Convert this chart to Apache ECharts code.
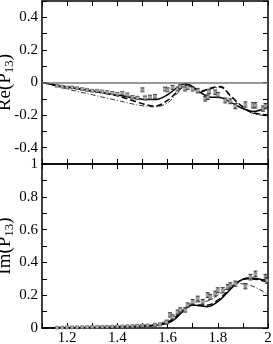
<!DOCTYPE html>
<html><head><meta charset="utf-8">
<script src="https://cdn.jsdelivr.net/npm/echarts@6/dist/echarts.min.js"></script>
<style>html,body{margin:0;padding:0;background:#fff}#c{width:273px;height:344px}</style>
</head><body><div id="c"></div>
<script>
// ---- Re(P13) panel ----
const reCurveX = [1.1, 1.15, 1.2, 1.25, 1.3, 1.35, 1.4, 1.45, 1.5, 1.55, 1.6, 1.64, 1.67, 1.7, 1.73, 1.77, 1.81, 1.85, 1.9, 1.94, 2.0];
const reSolid  = [0, -0.015, -0.028, -0.04, -0.052, -0.064, -0.077, -0.09, -0.103, -0.105, -0.075, -0.03, -0.008, -0.025, -0.06, -0.09, -0.092, -0.12, -0.16, -0.178, -0.15];
const reDashed = [0, -0.014, -0.027, -0.04, -0.053, -0.066, -0.082, -0.105, -0.13, -0.145, -0.11, -0.055, -0.015, -0.03, -0.055, -0.035, -0.025, -0.08, -0.15, -0.185, -0.2];
const reDashDot= [0, -0.02, -0.04, -0.058, -0.075, -0.093, -0.11, -0.128, -0.143, -0.15, -0.125, -0.065, -0.02, -0.035, -0.06, -0.04, -0.03, -0.085, -0.155, -0.19, -0.205];
const reDataX = [1.16,1.18,1.20,1.22,1.24,1.26,1.28,1.30,1.32,1.34,1.36,1.38,1.40,1.42,1.44,1.46,1.48,1.50,1.51,1.53,1.55,1.59,1.60,1.62,1.64,1.65,1.67,1.68,1.70,1.72,1.75,1.76,1.765,1.79,1.80,1.83,1.85,1.87,1.91,1.94,1.95,1.98,1.99];
const reDataY = [-0.02,-0.025,-0.03,-0.03,-0.035,-0.04,-0.045,-0.05,-0.05,-0.055,-0.06,-0.065,-0.07,-0.065,-0.075,-0.09,-0.095,-0.045,-0.095,-0.09,-0.085,-0.04,-0.045,-0.03,-0.04,-0.025,-0.04,-0.03,-0.04,-0.05,-0.10,-0.09,-0.055,-0.06,-0.075,-0.11,-0.115,-0.145,-0.135,-0.14,-0.14,-0.16,-0.145];
const reDataE = [0.006,0.006,0.006,0.006,0.006,0.006,0.007,0.007,0.007,0.007,0.008,0.008,0.008,0.01,0.01,0.01,0.01,0.012,0.012,0.012,0.012,0.012,0.012,0.012,0.012,0.012,0.012,0.012,0.012,0.014,0.014,0.014,0.014,0.014,0.014,0.015,0.015,0.016,0.016,0.016,0.016,0.016,0.016];
// ---- Im(P13) panel ----
const imCurveX = [1.1, 1.2, 1.3, 1.4, 1.5, 1.55, 1.6, 1.63, 1.66, 1.7, 1.73, 1.76, 1.8, 1.84, 1.88, 1.92, 1.96, 2.0];
const imSolid  = [0, 0.001, 0.003, 0.005, 0.01, 0.015, 0.028, 0.055, 0.1, 0.14, 0.135, 0.13, 0.16, 0.22, 0.28, 0.305, 0.3, 0.285];
const imDashed = [0, 0.001, 0.003, 0.006, 0.012, 0.018, 0.035, 0.065, 0.105, 0.14, 0.14, 0.14, 0.17, 0.225, 0.28, 0.3, 0.295, 0.28];
const imDashDot= [0, 0.001, 0.003, 0.006, 0.013, 0.02, 0.045, 0.075, 0.115, 0.155, 0.16, 0.165, 0.2, 0.245, 0.27, 0.265, 0.24, 0.205];
const imDataX = [1.16,1.18,1.20,1.22,1.24,1.26,1.28,1.30,1.32,1.34,1.36,1.38,1.40,1.42,1.44,1.46,1.48,1.50,1.52,1.55,1.57,1.596,1.61,1.62,1.64,1.65,1.67,1.68,1.70,1.72,1.74,1.76,1.77,1.79,1.80,1.82,1.84,1.85,1.87,1.91,1.93,1.95,1.99,1.995];
const imDataY = [0.002,0.003,0.004,0.004,0.005,0.005,0.006,0.006,0.007,0.008,0.008,0.009,0.01,0.01,0.011,0.012,0.014,0.015,0.016,0.02,0.022,0.036,0.08,0.067,0.097,0.11,0.11,0.14,0.16,0.18,0.16,0.20,0.19,0.21,0.23,0.23,0.25,0.26,0.27,0.255,0.31,0.33,0.31,0.29];
const imDataE = [0.004,0.004,0.004,0.004,0.004,0.004,0.004,0.004,0.004,0.004,0.004,0.004,0.004,0.004,0.005,0.005,0.005,0.006,0.006,0.008,0.008,0.012,0.013,0.013,0.013,0.013,0.013,0.013,0.014,0.014,0.014,0.015,0.015,0.015,0.015,0.016,0.016,0.016,0.016,0.016,0.017,0.017,0.017,0.017];

const FONT = 'Liberation Serif';
const pair = (xs, ys) => xs.map((x, i) => [x, ys[i]]);
const trip = (xs, ys, es) => xs.map((x, i) => [x, ys[i], es[i]]);

function xAxis(gridIndex, position, labels) {
  return {
    type: 'value', gridIndex, position, min: 1.1, max: 2.0, interval: 0.1,
    axisLine: { show: true, onZero: false, lineStyle: { color: '#000', width: 1.5 } },
    axisTick: { show: true, inside: true, length: 5, lineStyle: { color: '#000', width: 1 } },
    splitLine: { show: false },
    axisLabel: {
      show: labels, color: '#000', fontFamily: FONT, fontSize: 15, margin: 3, showMinLabel: true, showMaxLabel: true,
      formatter: v => { const k = Math.round(v * 10); return k % 2 === 0 ? (k === 20 ? '2' : (k / 10).toFixed(1)) : ''; }
    }
  };
}
function yAxis(gridIndex, position, min, max, labels, fmt, name) {
  return {
    type: 'value', gridIndex, position, min, max, interval: 0.1,
    axisLine: { show: true, onZero: false, lineStyle: { color: '#000', width: 1.5 } },
    axisTick: { show: true, inside: true, length: 5, lineStyle: { color: '#000', width: 1 } },
    splitLine: { show: false },
    axisLabel: { show: labels, color: '#000', fontFamily: FONT, fontSize: 15, margin: 4, formatter: fmt, showMinLabel: true, showMaxLabel: true },
    name: name || '', nameLocation: 'middle', nameRotate: 90, nameGap: 26, nameMoveOverlap: false,
    nameTextStyle: {
      color: '#000', fontFamily: FONT,
      rich: {
        a: { fontFamily: FONT, fontSize: 19, color: '#000', lineHeight: 20, verticalAlign: 'top' },
        s: { fontFamily: FONT, fontSize: 13, color: '#000', lineHeight: 14, verticalAlign: 'bottom', padding: [7, 0, 0, 0] }
      }
    }
  };
}
const fmtTop = v => { const k = Math.round(v * 10); if (Math.abs(k) === 5) return ''; return k % 2 === 0 ? (k === 0 ? '0' : (k / 10).toFixed(1)) : ''; };
const fmtBot = v => { const k = Math.round(v * 10); return k % 2 === 0 ? (k === 0 ? '0' : k === 10 ? '1' : (k / 10).toFixed(1)) : ''; };

function errSeries(xi, yi, data) {
  return {
    type: 'custom', xAxisIndex: xi, yAxisIndex: yi, data, z: 5,
    renderItem: (params, api) => {
      const x = api.value(0), y = api.value(1), e = api.value(2);
      const p = api.coord([x, y]), lo = api.coord([x, y - e]), hi = api.coord([x, y + e]);
      const st = { stroke: '#333', lineWidth: 1 };
      return { type: 'group', children: [
        { type: 'line', shape: { x1: p[0], y1: lo[1], x2: p[0], y2: hi[1] }, style: st },
        { type: 'line', shape: { x1: p[0] - 2, y1: lo[1], x2: p[0] + 2, y2: lo[1] }, style: st },
        { type: 'line', shape: { x1: p[0] - 2, y1: hi[1], x2: p[0] + 2, y2: hi[1] }, style: st },
        { type: 'rect', shape: { x: p[0] - 1.5, y: p[1] - 1.5, width: 3, height: 3 }, style: { fill: '#aaa', stroke: '#666', lineWidth: 0.5 } }
      ] };
    }
  };
}
function curve(xi, yi, data, width, dash) {
  return {
    type: 'line', xAxisIndex: xi, yAxisIndex: yi, data, smooth: 0.35, showSymbol: false, symbol: 'none',
    lineStyle: { color: '#000', width, type: dash ? dash : 'solid' }, z: 3
  };
}

const chart = echarts.init(document.getElementById('c'), null, { renderer: 'canvas' });
chart.setOption({
  animation: false,
  backgroundColor: '#fff',
  grid: [
    { left: 42, top: 1, width: 226, height: 163, containLabel: false, outerBoundsMode: 'none' },
    { left: 42, top: 164, width: 226, height: 164, containLabel: false, outerBoundsMode: 'none' }
  ],
  xAxis: [xAxis(0, 'bottom', false), xAxis(0, 'top', false), xAxis(1, 'bottom', true), xAxis(1, 'top', false)],
  yAxis: [
    yAxis(0, 'left', -0.5, 0.5, true, fmtTop, '{a|Re(P}{s|13}{a|)}'),
    yAxis(0, 'right', -0.5, 0.5, false, fmtTop),
    yAxis(1, 'left', 0, 1, true, fmtBot, '{a|Im(P}{s|13}{a|)}'),
    yAxis(1, 'right', 0, 1, false, fmtBot)
  ],
  series: [
    Object.assign(curve(0, 0, pair(reCurveX, reSolid), 1.5), {
      markLine: { silent: true, symbol: 'none', label: { show: false }, lineStyle: { color: '#777', width: 1.5, type: 'solid' }, data: [{ yAxis: 0 }] }
    }),
    curve(0, 0, pair(reCurveX, reDashed), 1.5, [6, 3]),
    curve(0, 0, pair(reCurveX, reDashDot), 0.8, [5, 2, 1, 2]),
    errSeries(0, 0, trip(reDataX, reDataY, reDataE)),
    curve(2, 2, pair(imCurveX, imSolid), 1.5),
    curve(2, 2, pair(imCurveX, imDashed), 1.5, [6, 3]),
    curve(2, 2, pair(imCurveX, imDashDot), 0.8, [5, 2, 1, 2]),
    errSeries(2, 2, trip(imDataX, imDataY, imDataE))
  ]
});
</script></body></html>
